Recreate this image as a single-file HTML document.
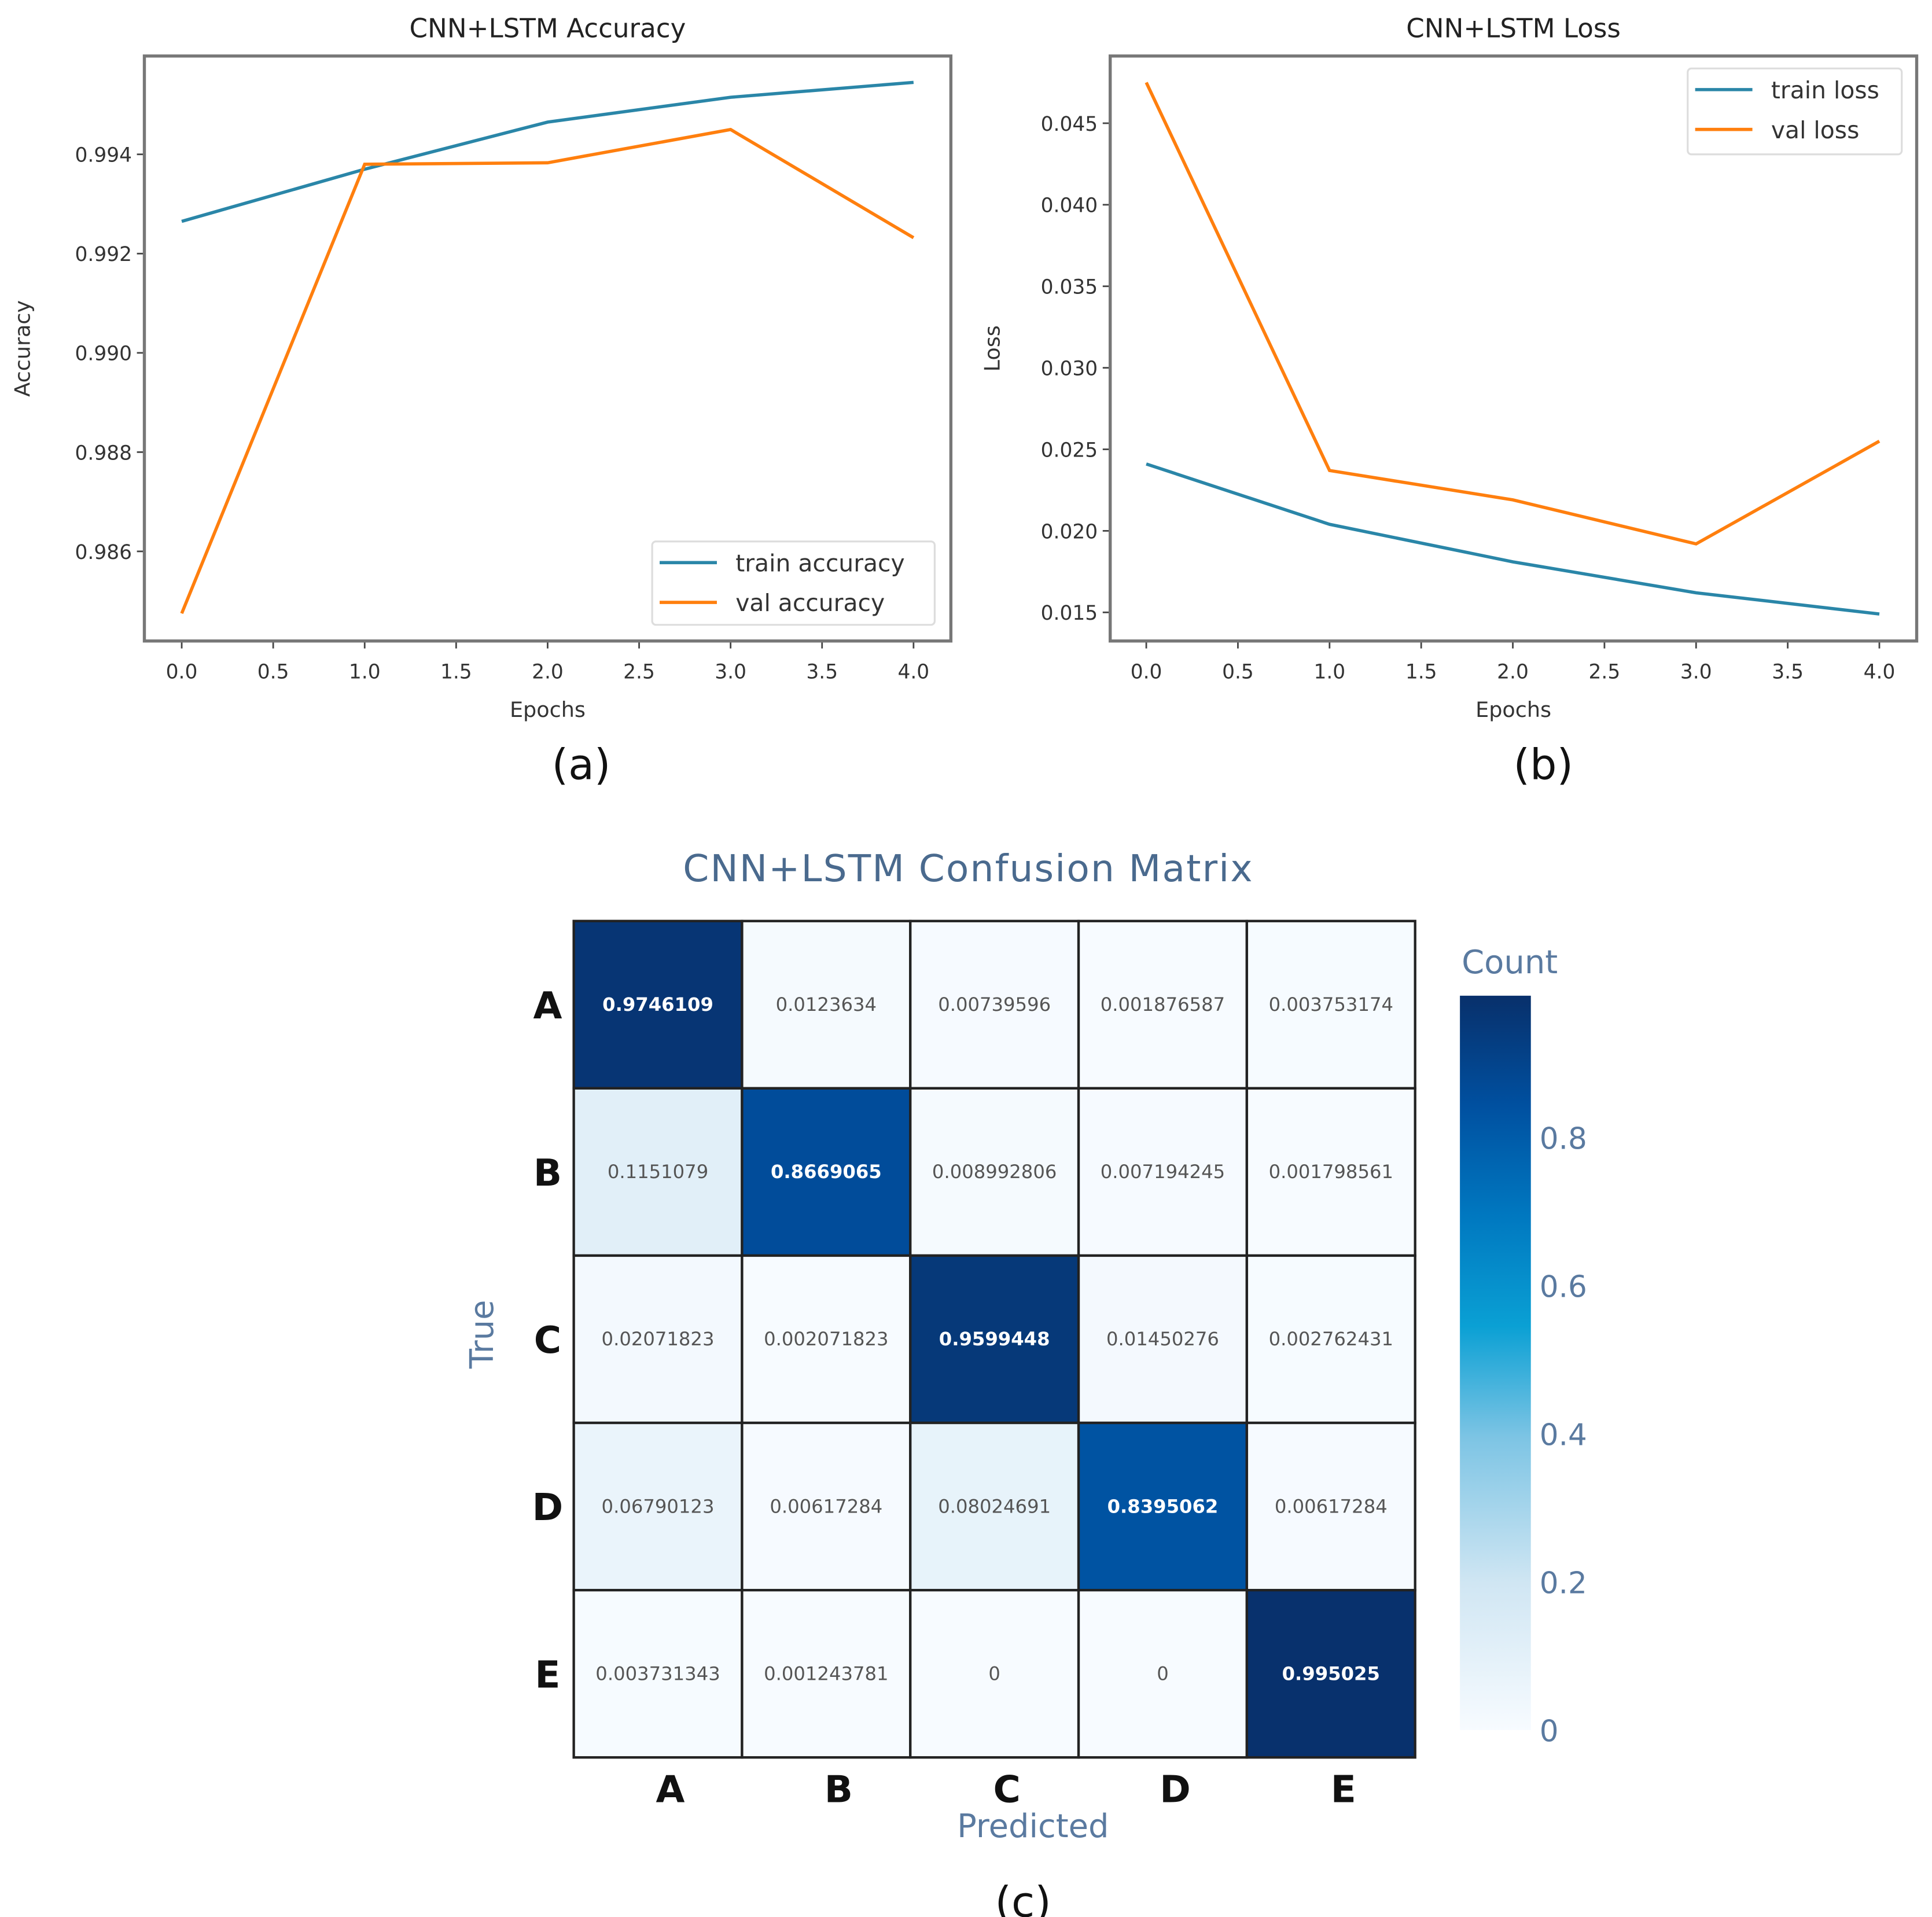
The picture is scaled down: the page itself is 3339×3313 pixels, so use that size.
<!DOCTYPE html>
<html><head><meta charset="utf-8"><style>
html,body{margin:0;padding:0;background:#fff}
svg{display:block}
text{font-family:"DejaVu Sans","Liberation Sans",sans-serif}
</style></head><body>
<svg id="fig" width="3339" height="3313" viewBox="0 0 1552.3 1540.2" xmlns="http://www.w3.org/2000/svg">
<g id="pa"></g>
<g id="pb"></g>
<g id="pc"></g>
</svg>
<script>
const epochs = [0, 1, 2, 3, 4];
const accXTicks = [0, 0.5, 1, 1.5, 2, 2.5, 3, 3.5, 4];
const trainAcc = [0.99265, 0.99370, 0.99465, 0.99515, 0.99545];
const valAcc = [0.98475, 0.99380, 0.99383, 0.99450, 0.99232];
const accYTicks = [0.986, 0.988, 0.990, 0.992, 0.994];
const trainLoss = [0.0241, 0.0204, 0.0181, 0.0162, 0.0149];
const valLoss = [0.0475, 0.0237, 0.0219, 0.0192, 0.0255];
const lossYTicks = [0.015, 0.020, 0.025, 0.030, 0.035, 0.040, 0.045];
const classes = ['A', 'B', 'C', 'D', 'E'];
const cmValues = [
 [0.9746109, 0.0123634, 0.00739596, 0.001876587, 0.003753174],
 [0.1151079, 0.8669065, 0.008992806, 0.007194245, 0.001798561],
 [0.02071823, 0.002071823, 0.9599448, 0.01450276, 0.002762431],
 [0.06790123, 0.00617284, 0.08024691, 0.8395062, 0.00617284],
 [0.003731343, 0.001243781, 0, 0, 0.995025]
];
const cmLabels = [
 ['0.9746109','0.0123634','0.00739596','0.001876587','0.003753174'],
 ['0.1151079','0.8669065','0.008992806','0.007194245','0.001798561'],
 ['0.02071823','0.002071823','0.9599448','0.01450276','0.002762431'],
 ['0.06790123','0.00617284','0.08024691','0.8395062','0.00617284'],
 ['0.003731343','0.001243781','0','0','0.995025']
];
const cbTicks = [0, 0.2, 0.4, 0.6, 0.8];

const NS = 'http://www.w3.org/2000/svg';
function mk(parent, tag, attrs, txt){
  const e = document.createElementNS(NS, tag);
  for (const k in attrs) e.setAttribute(k, attrs[k]);
  if (txt !== undefined) e.textContent = txt;
  parent.appendChild(e);
  return e;
}
const BLUE = '#1f77b4', TEAL = '#2a86a8', ORANGE = '#ff7f0e';

function linePanel(g, o){
  const sx = v => o.x0 + (v - 0) / 4 * (o.x4 - o.x0);
  const sy = v => o.yA + (v - o.vA) / (o.vB - o.vA) * (o.yB - o.yA);
  let t = mk(g, 'text', {x: (o.L + o.R) / 2, y: 30, 'text-anchor': 'middle', 'font-size': 21, fill: '#222'}, o.title);
   
  o.xt.forEach(v => {
    const x = sx(v);
    let l = mk(g, 'line', {x1: x, x2: x, y1: o.B, y2: o.B + 6, stroke: '#444', 'stroke-width': 1.3});
     
    let tt = mk(g, 'text', {x: x, y: o.B + 30, 'text-anchor': 'middle', 'font-size': 16, fill: '#333'}, v.toFixed(1));
     
  });
  o.yt.forEach(v => {
    const y = sy(v);
    let l = mk(g, 'line', {x1: o.L - 6, x2: o.L, y1: y, y2: y, stroke: '#444', 'stroke-width': 1.3});
     
    let tt = mk(g, 'text', {x: o.L - 10, y: y + 6, 'text-anchor': 'end', 'font-size': 16, fill: '#333'}, v.toFixed(3));
     
  });
  let xl = mk(g, 'text', {x: (o.L + o.R) / 2, y: o.B + 61, 'text-anchor': 'middle', 'font-size': 17, fill: '#333'}, 'Epochs');
   
  let yl = mk(g, 'text', {x: 0, y: 0, transform: `translate(${o.ylx},${(o.T + o.B) / 2}) rotate(-90)`, 'text-anchor': 'middle', 'font-size': 17, fill: '#333'}, o.ylabel);
   
  [[o.s1, TEAL, 'train-line'], [o.s2, ORANGE, 'val-line']].forEach(([s, c, n]) => {
    const pts = s.map((v, i) => sx(epochs[i]) + ',' + sy(v)).join(' ');
    let p = mk(g, 'polyline', {points: pts, fill: 'none', stroke: c, 'stroke-width': 2.6});
     
  });
  let fr = mk(g, 'rect', {x: o.L, y: o.T, width: o.R - o.L, height: o.B - o.T, fill: 'none', stroke: '#777', 'stroke-width': 2.5});
   
  const lg = o.leg;
  let lb = mk(g, 'rect', {x: lg.x, y: lg.y, width: lg.w, height: lg.h, fill: '#fff', stroke: '#ddd', 'stroke-width': 1.5, rx: 3});
   
  [[TEAL, o.n1, lg.y + 17], [ORANGE, o.n2, lg.y + 49]].forEach(([c, n, y]) => {
    let l = mk(g, 'line', {x1: lg.x + 6, x2: lg.x + 52, y1: y, y2: y, stroke: c, 'stroke-width': 2.6});
     
    let tt = mk(g, 'text', {x: lg.x + 67, y: y + 7, 'font-size': 19, fill: '#333'}, n);
     
  });
  let cap = mk(g, 'text', {x: o.capx, y: 626, 'text-anchor': 'middle', 'font-size': 34, fill: '#111', 'font-family': 'Liberation Sans'}, o.cap);
   
}

linePanel(document.getElementById('pa'), {L:116, R:764, T:45, B:515, x0:146, x4:734, yA:124, vA:0.994, yB:443, vB:0.986,
  title:'CNN+LSTM Accuracy', xt:accXTicks, yt:accYTicks, ylabel:'Accuracy', ylx:24, s1:trainAcc, s2:valAcc,
  n1:'train accuracy', n2:'val accuracy', leg:{x:524, y:435, w:227, h:67}, cap:'(a)', capx:467});
linePanel(document.getElementById('pb'), {L:892, R:1540, T:45, B:515, x0:921, x4:1510, yA:99, vA:0.045, yB:492, vB:0.015,
  title:'CNN+LSTM Loss', xt:accXTicks, yt:lossYTicks, ylabel:'Loss', ylx:803, s1:trainLoss, s2:valLoss,
  n1:'train loss', n2:'val loss', leg:{x:1356, y:55, w:172, h:69}, cap:'(b)', capx:1240});

// Confusion matrix
const stops = [[0,[247,251,255]],[0.2,[208,230,243]],[0.4,[124,196,228]],[0.55,[10,160,212]],[0.7,[0,120,192]],[0.85,[0,80,160]],[1,[8,48,107]]];
function blues(v){
  v = Math.max(0, Math.min(1, v));
  for (let i = 1; i < stops.length; i++) {
    if (v <= stops[i][0]) {
      const [a, ca] = stops[i-1], [b, cb] = stops[i], t = (v - a) / (b - a);
      return 'rgb(' + ca.map((c, k) => Math.round(c + t * (cb[k] - c))).join(',') + ')';
    }
  }
  return 'rgb(8,48,107)';
}
const gc = document.getElementById('pc');
const GX = 461, GY = 740, GW = 676, GH = 672, cw = GW / 5, ch = GH / 5;
let ct = mk(gc, 'text', {x: 778, y: 708, 'text-anchor': 'middle', 'font-size': 30, fill: '#4a6a8e', 'letter-spacing': 1}, 'CNN+LSTM Confusion Matrix');
 
cmValues.forEach((row, r) => row.forEach((v, c) => {
  let rc = mk(gc, 'rect', {x: GX + c * cw, y: GY + r * ch, width: cw, height: ch, fill: blues(v), stroke: '#222', 'stroke-width': 2});
   
  const dark = v > 0.5;
  let tt = mk(gc, 'text', {x: GX + (c + 0.5) * cw, y: GY + (r + 0.5) * ch + 5, 'text-anchor': 'middle', 'font-size': 15,
    fill: dark ? '#fff' : '#555', 'font-weight': dark ? 'bold' : 'normal'}, cmLabels[r][c]);
   
}));
classes.forEach((k, i) => {
  let a = mk(gc, 'text', {x: 440, y: GY + (i + 0.5) * ch + 11, 'text-anchor': 'middle', 'font-size': 30, 'font-weight': 'bold', fill: '#111', 'font-family': 'Liberation Sans'}, k);
   
  let b = mk(gc, 'text', {x: GX + (i + 0.5) * cw + 10, y: 1448, 'text-anchor': 'middle', 'font-size': 30, 'font-weight': 'bold', fill: '#111', 'font-family': 'Liberation Sans'}, k);
   
});
let px = mk(gc, 'text', {x: 830, y: 1476, 'text-anchor': 'middle', 'font-size': 26, fill: '#5a7aa0'}, 'Predicted');
 
let ty = mk(gc, 'text', {x: 0, y: 0, transform: 'translate(396,1072) rotate(-90)', 'text-anchor': 'middle', 'font-size': 26, fill: '#5a7aa0'}, 'True');
 
// colorbar
const defs = mk(gc, 'defs', {});
const lgd = mk(defs, 'linearGradient', {id: 'cbg', x1: 0, y1: 1, x2: 0, y2: 0});
stops.forEach(([o, c]) => mk(lgd, 'stop', {offset: o, 'stop-color': 'rgb(' + c.join(',') + ')'}));
const cbY0 = 1390, cbY1 = 795;
const cy = v => cbY0 + v * (cbY1 - cbY0);
let cb = mk(gc, 'rect', {x: 1173, y: 800, width: 57, height: cbY0 - 800, fill: 'url(#cbg)'});
 
cbTicks.forEach(v => {
  let tt = mk(gc, 'text', {x: 1237, y: cy(v) + 9, 'font-size': 24, fill: '#5a7aa0'}, v === 0 ? '0' : v.toFixed(1));
   
});
let cnt = mk(gc, 'text', {x: 1213, y: 782, 'text-anchor': 'middle', 'font-size': 26, fill: '#5a7aa0'}, 'Count');
 
let cc = mk(gc, 'text', {x: 822, y: 1540, 'text-anchor': 'middle', 'font-size': 34, fill: '#111', 'font-family': 'Liberation Sans'}, '(c)');
 
</script>
</body></html>
